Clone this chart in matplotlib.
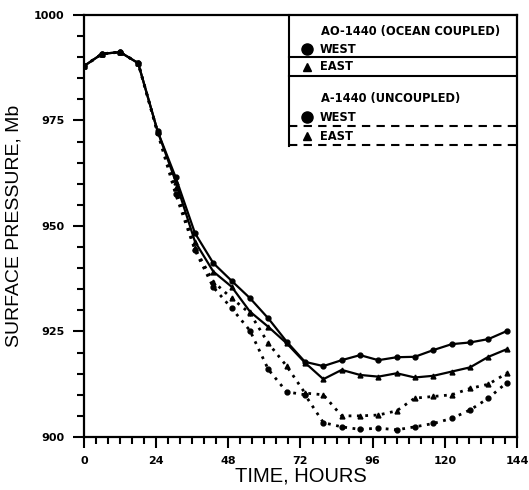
import matplotlib
matplotlib.use("Agg")
import matplotlib.pyplot as plt
from matplotlib.ticker import MultipleLocator

# tiempo (horas) de cada punto marcado
horas = [0, 6, 12, 18, 24.5, 30.5, 36.9, 43, 49.1, 55.2, 61.3, 67.4, 73.5,
         79.6, 85.7, 91.8, 97.9, 104, 110, 116.2, 122.3, 128.4, 134.5, 140.6]

# AO-1440 (ocean coupled)
ao_west = [987.9, 990.8, 991.2, 988.6, 972.4, 961.5, 948.3, 941.2, 937.0, 932.9, 928.1, 922.6, 917.8,
           916.8, 918.2, 919.4, 918.2, 918.9, 919.0, 920.6, 922.0, 922.4, 923.2, 925.1]
ao_east = [987.9, 990.8, 991.2, 988.6, 972.4, 960.5, 946.3, 939.2, 935.6, 929.7, 926.1, 922.2, 917.6,
           913.7, 915.9, 914.7, 914.3, 915.1, 914.1, 914.5, 915.5, 916.5, 919.0, 920.8]

# A-1440 (uncoupled)
a_west = [987.9, 990.8, 991.2, 988.6, 972.0, 957.5, 944.3, 935.5, 930.5, 925.2, 916.0, 910.7, 910.0,
          903.4, 902.4, 901.8, 902.1, 901.7, 902.4, 903.2, 904.4, 906.4, 909.2, 912.9]
a_east = [987.9, 990.8, 991.2, 988.6, 972.2, 959.0, 944.7, 936.8, 932.9, 929.3, 922.2, 916.8, 910.4,
          910.0, 905.0, 905.0, 905.2, 906.2, 909.2, 909.6, 910.0, 911.5, 912.5, 915.1]

fig = plt.figure(figsize=(5.29, 4.90), dpi=100)
ax = fig.add_axes([0.1588, 0.1082, 0.8185, 0.8612])

punteado = (0, (1, 2.0))
ax.plot(horas, ao_west, color="black", lw=1.6, marker="o", ms=3.5)
ax.plot(horas, ao_east, color="black", lw=1.6, marker="^", ms=3.5)
ax.plot(horas, a_west, color="black", lw=2.0, ls=punteado, marker="o", ms=3.5)
ax.plot(horas, a_east, color="black", lw=2.0, ls=punteado, marker="^", ms=3.5)

ax.set_xlim(0, 144)
ax.set_ylim(900, 1000)
ax.xaxis.set_major_locator(MultipleLocator(24))
ax.xaxis.set_minor_locator(MultipleLocator(4))
ax.yaxis.set_major_locator(MultipleLocator(25))
ax.yaxis.set_minor_locator(MultipleLocator(5))
ax.tick_params(which="major", direction="out", length=8, width=1.5, pad=6)
ax.tick_params(which="minor", direction="out", length=5, width=1.5)
for lab in ax.get_xticklabels() + ax.get_yticklabels():
    lab.set_fontweight("bold")
    lab.set_fontsize(8)
for sp in ax.spines.values():
    sp.set_linewidth(1.6)

ax.set_xlabel("TIME, HOURS", fontsize=14.5, family="Liberation Sans", labelpad=0)
ax.set_ylabel("SURFACE PRESSURE, Mb", fontsize=14, family="Liberation Sans", labelpad=8)

# cuadro de leyenda dibujado a mano
tr = ax.transAxes
ley = dict(transform=tr, fontsize=8.3, fontweight="bold", va="center", ha="left")
ax.plot([0.473, 0.473], [1.0, 0.69], color="black", lw=1.5, transform=tr, clip_on=False)
ax.text(0.547, 0.960, "AO-1440 (OCEAN COUPLED)", **ley)
ax.plot([0.515], [0.919], "o", color="black", ms=8, transform=tr)
ax.text(0.545, 0.919, "WEST", **ley)
ax.plot([0.473, 1.0], [0.900, 0.900], color="black", lw=1.5, transform=tr)
ax.plot([0.515], [0.877], "^", color="black", ms=6, transform=tr)
ax.text(0.545, 0.877, "EAST", **ley)
ax.plot([0.473, 1.0], [0.855, 0.855], color="black", lw=1.5, transform=tr)
ax.text(0.547, 0.803, "A-1440 (UNCOUPLED)", **ley)
ax.plot([0.515], [0.758], "o", color="black", ms=8, transform=tr)
ax.text(0.545, 0.758, "WEST", **ley)
ax.plot([0.473, 1.0], [0.737, 0.737], color="black", lw=1.5, ls=(0, (4, 3)), transform=tr)
ax.plot([0.515], [0.713], "^", color="black", ms=6, transform=tr)
ax.text(0.545, 0.713, "EAST", **ley)
ax.plot([0.473, 1.0], [0.692, 0.692], color="black", lw=1.5, ls=(0, (4, 3)), transform=tr)

fig.savefig("out.png", dpi=100)
